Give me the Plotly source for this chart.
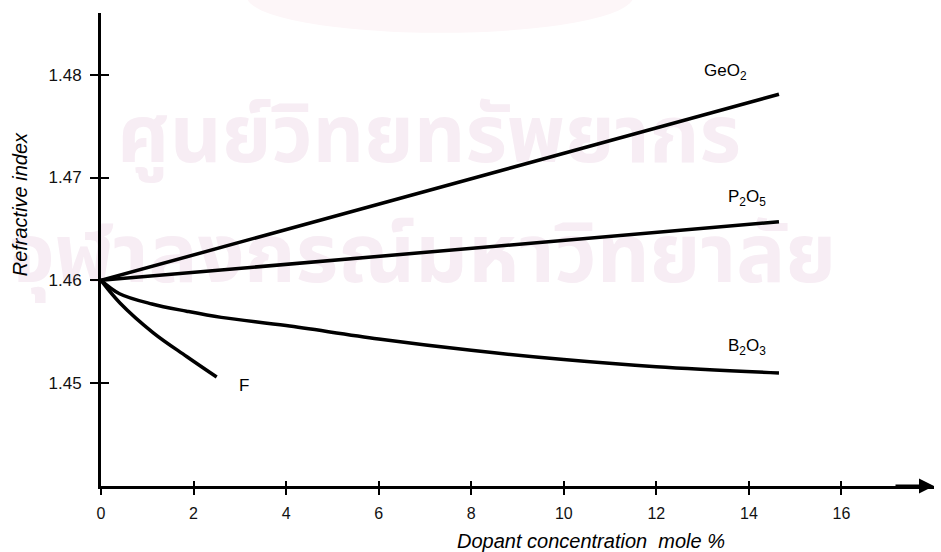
import plotly.graph_objects as go

# ---- data ----
geo2_x = [0, 14.65]
geo2_y = [1.4600, 1.4781]
p2o5_x = [0, 14.65]
p2o5_y = [1.4600, 1.4657]
b2o3_x = [0, 0.4, 1.1, 1.85, 2.6, 4, 6, 8, 10, 12, 14.65]
b2o3_y = [1.4600, 1.4587, 1.4577, 1.4570, 1.4564, 1.4556, 1.4543, 1.4532, 1.4523, 1.4516, 1.4510]
f_x = [0, 0.41, 1.13, 1.85, 2.5]
f_y = [1.4600, 1.4578, 1.4549, 1.4526, 1.4506]

x_ticks = [0, 2, 4, 6, 8, 10, 12, 14, 16]
y_ticks = [1.45, 1.46, 1.47, 1.48]
y_tick_text = ["1.45", "1.46", "1.47", "1.48"]

series_labels = ["GeO<sub>2</sub>", "P<sub>2</sub>O<sub>5</sub>", "B<sub>2</sub>O<sub>3</sub>", "F"]
label_x = [13.5, 13.95, 13.95, 3.1]
label_y = [1.4803, 1.4680, 1.4535, 1.4498]

watermark_lines = ["ศูนย์วิทยทรัพยากร", "จุฬาลงกรณ์มหาวิทยาลัย"]

x_range = [0, 18]
y_range = [1.44, 1.486]

FONT = "Liberation Sans, Arial, sans-serif"
WM_FONT = "Noto Sans Thai, Noto Sans, sans-serif"
WM_COLOR = "#f7edf4"

fig = go.Figure()

# faint watermark drawn first so it lies beneath the curves and axes
fig.add_trace(go.Scatter(x=[7.09], y=[1.4735], mode="text", text=[f"<b>{watermark_lines[0]}</b>"],
                         textposition="middle center", cliponaxis=False,
                         textfont=dict(family=WM_FONT, size=80, color=WM_COLOR),
                         showlegend=False, hoverinfo="skip"))
fig.add_trace(go.Scatter(x=[6.95], y=[1.4618], mode="text", text=[f"<b>{watermark_lines[1]}</b>"],
                         textposition="middle center", cliponaxis=False,
                         textfont=dict(family=WM_FONT, size=82, color=WM_COLOR),
                         showlegend=False, hoverinfo="skip"))

for xs, ys, shape in [(geo2_x, geo2_y, "linear"), (p2o5_x, p2o5_y, "linear"),
                      (b2o3_x, b2o3_y, "spline"), (f_x, f_y, "spline")]:
    fig.add_trace(go.Scatter(x=xs, y=ys, mode="lines", line=dict(color="black", width=3.5, shape=shape),
                             showlegend=False, hoverinfo="skip"))

# invisible trace to register overlay axes (inside tick marks)
fig.add_trace(go.Scatter(x=f_x, y=f_y, xaxis="x2", yaxis="y2", mode="lines",
                         line=dict(width=0), opacity=0, showlegend=False, hoverinfo="skip"))

for t, lx, ly in zip(series_labels, label_x, label_y):
    fig.add_annotation(text=t, x=lx, y=ly, xref="x", yref="y", showarrow=False,
                       font=dict(family=FONT, size=17, color="black"))

# faint logo remnant at the top (background decoration)
fig.add_shape(type="circle", xref="paper", yref="paper", x0=0.175, x1=0.639, y0=0.958, y1=1.112,
              fillcolor="#fdf6f8", line=dict(width=0), layer="below")

# axis arrows
fig.add_annotation(x=0, y=y_range[1] + 0.0002, xref="x", yref="y", ax=0, ay=40,
                   showarrow=True, arrowhead=2, arrowsize=1, arrowwidth=3, arrowcolor="black", text="")
fig.add_annotation(x=x_range[1], y=y_range[0], xref="x", yref="y", ax=-40, ay=0,
                   showarrow=True, arrowhead=2, arrowsize=1, arrowwidth=3, arrowcolor="black", text="")

# axis titles
fig.add_annotation(text="<i>Refractive index</i>", xref="paper", yref="paper", x=-0.097, y=0.596,
                   xanchor="center", yanchor="middle", textangle=-90, showarrow=False,
                   font=dict(family=FONT, size=20, color="black"))
fig.add_annotation(text="<i>Dopant concentration  mole %</i>", xref="paper", yref="paper", x=0.588, y=-0.116,
                   xanchor="center", yanchor="middle", showarrow=False,
                   font=dict(family=FONT, size=20, color="black"))

axis_common = dict(showgrid=False, zeroline=False, showline=True, linecolor="black", linewidth=3,
                   ticks="outside", tickcolor="black", tickwidth=2)

fig.update_layout(
    width=941, height=552,
    margin=dict(l=101, r=7, t=13, b=66),
    paper_bgcolor="white", plot_bgcolor="rgba(0,0,0,0)",
    xaxis=dict(range=x_range, tickvals=x_ticks, ticklen=6, ticklabelstandoff=5,
               tickfont=dict(family=FONT, size=16, color="#111"), **axis_common),
    yaxis=dict(range=y_range, tickvals=y_ticks, ticktext=y_tick_text, ticklen=8, ticklabelstandoff=5,
               tickfont=dict(family=FONT, size=17, color="#111"), **axis_common),
    xaxis2=dict(range=x_range, overlaying="x", anchor="y2", tickvals=x_ticks, ticks="inside", ticklen=5,
                tickwidth=2, tickcolor="black", showticklabels=False, showgrid=False, zeroline=False,
                showline=False),
    yaxis2=dict(range=y_range, overlaying="y", anchor="x2", tickvals=y_ticks, ticks="inside", ticklen=8,
                tickwidth=2, tickcolor="black", showticklabels=False, showgrid=False, zeroline=False,
                showline=False),
)

fig.write_html("out.html", config={"displayModeBar": False},
               post_script="document.body.style.margin='0';")
